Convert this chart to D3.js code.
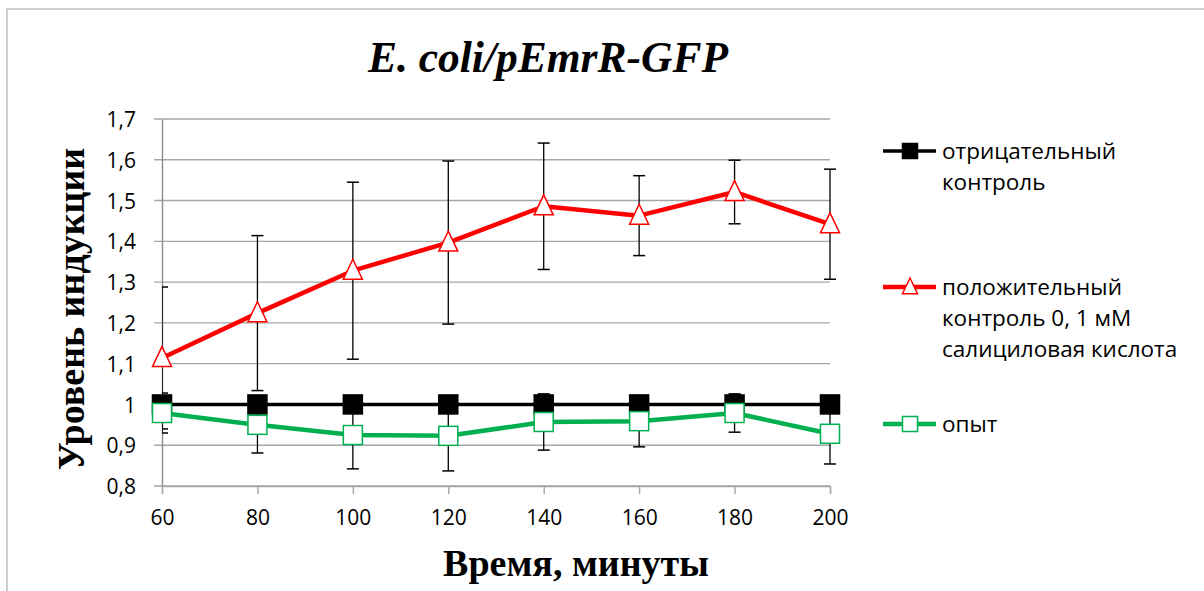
<!DOCTYPE html>
<html>
<head>
<meta charset="utf-8">
<script src="https://cdn.jsdelivr.net/npm/d3@7"></script>
<style>
  html, body { margin: 0; padding: 0; background: #fff; }
  svg { display: block; }
</style>
</head>
<body>
<svg id="chart" width="1204" height="591"></svg>
<script>
// ---- data ----
const times = [60, 80, 100, 120, 140, 160, 180, 200];
const negValues = [1, 1, 1, 1, 1, 1, 1, 1];
const negErrors = [0.015, 0.01, 0.01, 0.01, 0.022, 0.01, 0.024, 0.01];
const posValues = [1.114, 1.224, 1.328, 1.397, 1.486, 1.463, 1.521, 1.442];
const posErrors = [0.174, 0.19, 0.217, 0.2, 0.155, 0.098, 0.078, 0.135];
const expValues = [0.979, 0.95, 0.925, 0.923, 0.957, 0.959, 0.979, 0.928];
const expErrors = [0.049, 0.069, 0.083, 0.086, 0.069, 0.063, 0.047, 0.074];
const yTicks = [0.8, 0.9, 1.0, 1.1, 1.2, 1.3, 1.4, 1.5, 1.6, 1.7];
const yTickLabels = ["0,8", "0,9", "1", "1,1", "1,2", "1,3", "1,4", "1,5", "1,6", "1,7"];
const xTickLabels = ["60", "80", "100", "120", "140", "160", "180", "200"];
const seriesNames = [["отрицательный", "контроль"], ["положительный", "контроль 0, 1 мМ", "салициловая кислота"], ["опыт"]];
const titleText = "E. coli/pEmrR-GFP";
const xTitle = "Время, минуты";
const yTitle = "Уровень индукции";

// ---- layout ----
const svg = d3.select("#chart");
const plot = { left: 162, right: 830, top: 119, bottom: 486 };
const x = d3.scalePoint().domain(times).range([plot.left, plot.right]).padding(0);
const y = d3.scaleLinear().domain([0.8, 1.7]).range([plot.bottom, plot.top]);

const series = [
  { name: seriesNames[0], values: negValues, errors: negErrors, color: "#000000", marker: "square", fill: "#000000", lw: 3.5, legendY: 151, textY: 159 },
  { name: seriesNames[1], values: posValues, errors: posErrors, color: "#ff0000", marker: "triangle", fill: "#ffffff", lw: 4.5, legendY: 287, textY: 295 },
  { name: seriesNames[2], values: expValues, errors: expErrors, color: "#00b050", marker: "square", fill: "#ffffff", lw: 4.5, legendY: 424, textY: 432 }
];

// chart border
svg.append("rect").attr("x", 7).attr("y", 9).attr("width", 1400).attr("height", 800)
  .attr("fill", "none").attr("stroke", "#bfbfbf").attr("stroke-width", 1.5);

// gridlines
svg.append("g").selectAll("line").data(yTicks).join("line")
  .attr("x1", plot.left - 8).attr("x2", plot.right)
  .attr("y1", d => y(d)).attr("y2", d => y(d))
  .attr("stroke", "#a6a6a6").attr("stroke-width", 1.4);

// y axis
const yAxis = d3.axisLeft(y).tickValues(yTicks).tickFormat((d, i) => yTickLabels[i]).tickSize(0).tickPadding(26);
const gy = svg.append("g").attr("transform", `translate(${plot.left},0)`).call(yAxis);
gy.select(".domain").attr("stroke", "#8c8c8c").attr("stroke-width", 1.4);
gy.selectAll("text").attr("font-family", "Open Sans").attr("font-size", 21).attr("fill", "#000").attr("dy", "0.36em");

// x axis
const xAxis = d3.axisBottom(x).tickFormat((d, i) => xTickLabels[i]).tickSize(8).tickPadding(16);
const gx = svg.append("g").attr("transform", `translate(0,${plot.bottom})`).call(xAxis);
gx.select(".domain").attr("stroke", "#a6a6a6").attr("stroke-width", 1.4);
gx.selectAll(".tick line").attr("stroke", "#a6a6a6").attr("stroke-width", 1.4);
gx.selectAll("text").attr("font-family", "Open Sans").attr("font-size", 21).attr("fill", "#000");

// clip for error bars
svg.append("clipPath").attr("id", "plotclip").append("rect")
  .attr("x", plot.left).attr("y", 0).attr("width", 1204 - plot.left).attr("height", 591);

function drawMarker(g, type, cx, cy, size, color, fill) {
  if (type === "square") {
    g.append("rect").attr("x", cx - size / 2).attr("y", cy - size / 2)
      .attr("width", size).attr("height", size)
      .attr("fill", fill).attr("stroke", color).attr("stroke-width", 1.5);
  } else {
    const h = size;
    const w = size * 1.0;
    g.append("path")
      .attr("d", `M${cx},${cy - h * 0.6} L${cx + w / 2},${cy + h * 0.45} L${cx - w / 2},${cy + h * 0.45} Z`)
      .attr("fill", fill).attr("stroke", color).attr("stroke-width", 1.5);
  }
}

const line = d3.line().x(d => x(d[0])).y(d => y(d[1]));

series.forEach(s => {
  const g = svg.append("g");
  const pts = times.map((t, i) => [t, s.values[i], s.errors[i]]);
  g.append("path").datum(pts).attr("d", line)
    .attr("fill", "none").attr("stroke", s.color).attr("stroke-width", s.lw).attr("stroke-linejoin", "round");
  const eb = g.append("g").attr("clip-path", "url(#plotclip)");
  pts.forEach(p => {
    const cx = x(p[0]);
    const y1 = y(p[1] + p[2]), y2 = y(p[1] - p[2]);
    eb.append("line").attr("x1", cx).attr("x2", cx).attr("y1", y1).attr("y2", y2)
      .attr("stroke", "#000").attr("stroke-width", 1.3);
    [y1, y2].forEach(yy => eb.append("line").attr("x1", cx - 6).attr("x2", cx + 6)
      .attr("y1", yy).attr("y2", yy).attr("stroke", "#000").attr("stroke-width", 1.5));
  });
  pts.forEach(p => drawMarker(g, s.marker, x(p[0]), y(p[1]), 19, s.color, s.fill));
});

// legend
series.forEach(s => {
  const g = svg.append("g");
  g.append("line").attr("x1", 883).attr("x2", 936).attr("y1", s.legendY).attr("y2", s.legendY)
    .attr("stroke", s.color).attr("stroke-width", s.lw);
  drawMarker(g, s.marker, 910, s.legendY, 15, s.color, s.fill);
  const t = g.append("text").attr("x", 942).attr("y", s.textY)
    .attr("font-family", "Open Sans").attr("font-size", 22.5).attr("fill", "#000");
  s.name.forEach((ln, i) => t.append("tspan").attr("x", 942).attr("y", s.textY + i * 31).text(ln));
});

// titles
svg.append("text").attr("x", 548).attr("y", 72).attr("text-anchor", "middle")
  .attr("font-family", "Liberation Serif").attr("font-weight", "bold").attr("font-style", "italic")
  .attr("font-size", 43.5).text(titleText);
svg.append("text").attr("x", 576).attr("y", 576).attr("text-anchor", "middle")
  .attr("font-family", "Liberation Serif").attr("font-weight", "bold")
  .attr("font-size", 38).text(xTitle);
svg.append("text").attr("transform", "translate(84,309) rotate(-90)").attr("text-anchor", "middle")
  .attr("font-family", "Liberation Serif").attr("font-weight", "bold")
  .attr("font-size", 38).text(yTitle);
</script>
</body>
</html>
